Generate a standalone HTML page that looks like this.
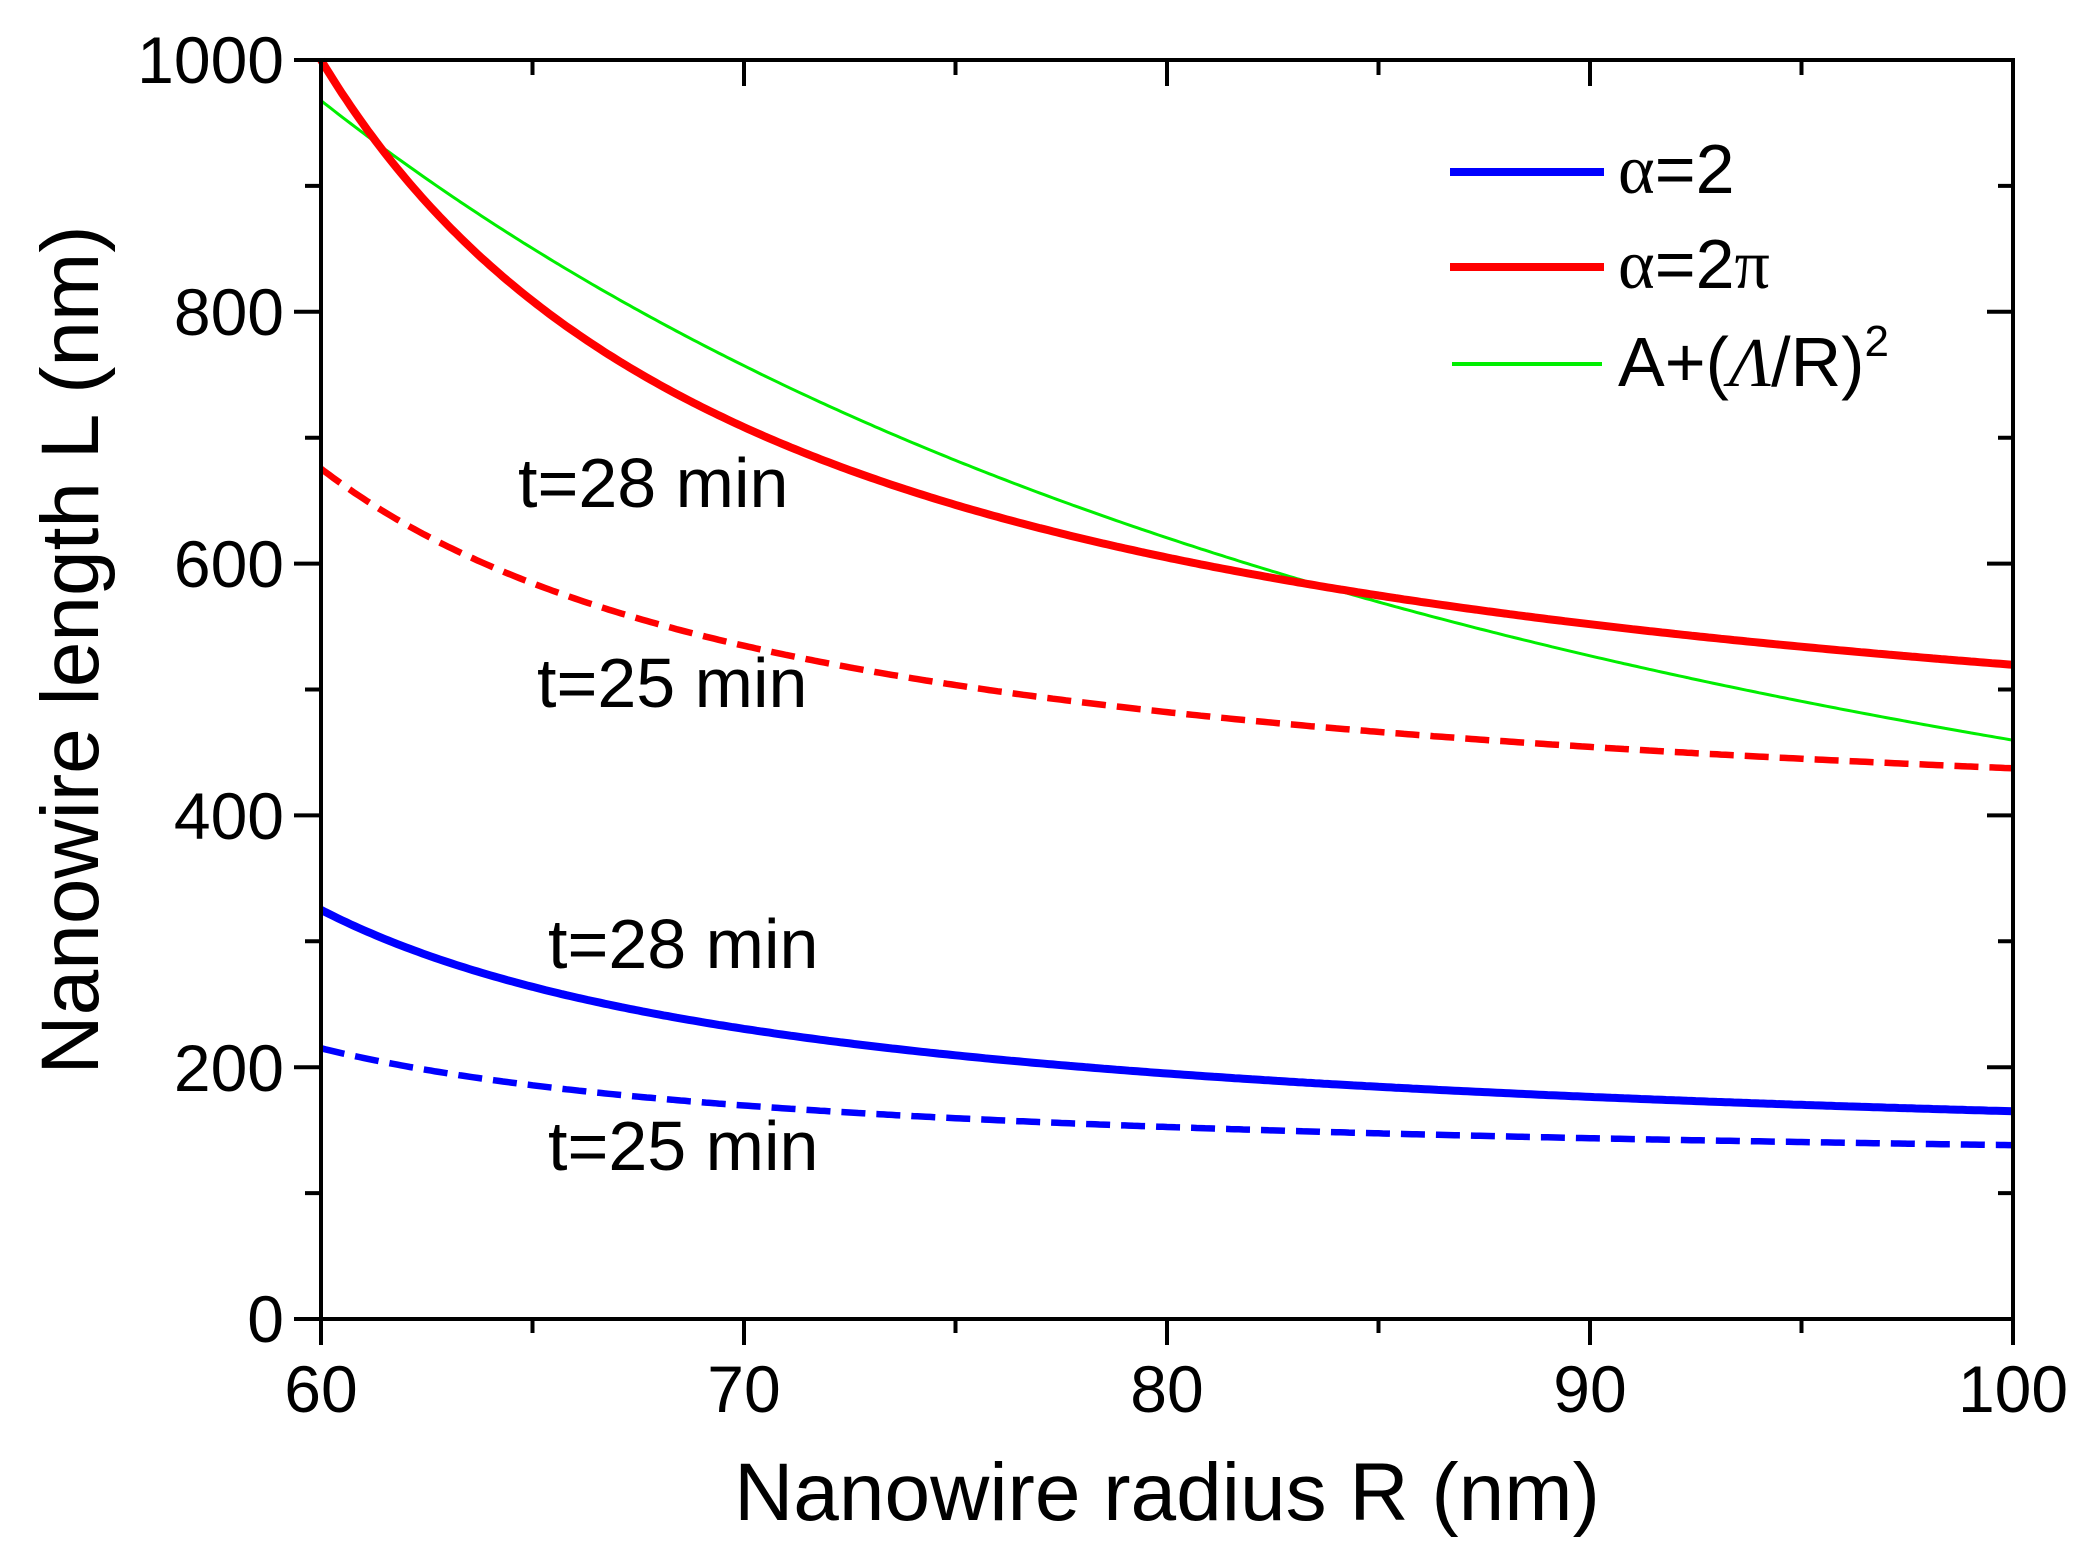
<!DOCTYPE html>
<html><head><meta charset="utf-8"><style>
html,body{margin:0;padding:0;background:#fff}
svg{display:block}
text{font-family:"Liberation Sans",sans-serif;fill:#000}
</style></head><body>
<svg id="s" width="2081" height="1562" viewBox="0 0 2081 1562" xmlns="http://www.w3.org/2000/svg">
<g id="curves"></g>
<g id="axes" stroke="#000" stroke-width="4" fill="none"></g>
<g font-size="66" text-anchor="end">
<text x="284" y="83">1000</text>
<text x="284" y="335">800</text>
<text x="284" y="587">600</text>
<text x="284" y="839">400</text>
<text x="284" y="1091">200</text>
<text x="284" y="1342">0</text>
</g>
<g font-size="66" text-anchor="middle">
<text x="321" y="1412">60</text>
<text x="744" y="1412">70</text>
<text x="1167" y="1412">80</text>
<text x="1590" y="1412">90</text>
<text x="2013" y="1412">100</text>
</g>
<text x="1167" y="1520" font-size="82" text-anchor="middle">Nanowire radius R (nm)</text>
<text transform="translate(98,650) rotate(-90)" font-size="82" text-anchor="middle">Nanowire length L (nm)</text>
<g font-size="70">
<text x="518" y="507">t=28 min</text>
<text x="537" y="707">t=25 min</text>
<text x="548" y="968">t=28 min</text>
<text x="548" y="1170">t=25 min</text>
</g>
<line x1="1450" y1="172" x2="1604" y2="172" stroke="#0000ff" stroke-width="8"/>
<line x1="1450" y1="267" x2="1604" y2="267" stroke="#ff0000" stroke-width="8"/>
<line x1="1452" y1="364" x2="1602" y2="364" stroke="#00ee00" stroke-width="4"/>
<g font-size="70">
<text x="1618" y="193"><tspan font-family="Liberation Serif">α</tspan>=2</text>
<text x="1618" y="288"><tspan font-family="Liberation Serif">α</tspan>=2<tspan font-family="Liberation Serif">π</tspan></text>
<text x="1618" y="386">A+(<tspan font-family="Liberation Serif" font-style="italic">Λ</tspan>/R)<tspan font-size="44" dy="-30">2</tspan></text>
</g>
</svg>
<script>
var X=function(r){return 321+(r-60)*(2013-321)/40;};
var Y=function(l){return 1319-l*(1319-60)/1000;};
function path(f){var d="";for(var i=0;i<=400;i++){var r=60+i*0.1;var l=f(r);d+=(i?"L":"M")+X(r).toFixed(1)+","+Y(l).toFixed(1);}return d;}
var c=document.getElementById("curves");
function add(f,col,w,dash){var p=document.createElementNS("http://www.w3.org/2000/svg","path");p.setAttribute("d",path(f));p.setAttribute("stroke",col);p.setAttribute("stroke-width",w);p.setAttribute("fill","none");if(dash)p.setAttribute("stroke-dasharray",dash);c.appendChild(p);}
add(function(r){return 1201/(r-48)+115;},"#0000ff",6.5,"24 11");
add(function(r){return 2496/(r-48)+117;},"#0000ff",8);
add(function(r){return 3713/(r-48)+366;},"#ff0000",6.5,"24 11");
add(function(r){return 174+2857500/(r*r);},"#00ee00",3);
add(function(r){return 6738/(r-49)+387.5;},"#ff0000",8);
var a=document.getElementById("axes");
var d="M321,60H2013V1319H321Z";
for(var v=0;v<=1000;v+=100){var y=Y(v);var maj=v%200==0;d+="M"+(maj?294:305)+","+y+"H321";d+="M2013,"+y+"H"+(maj?1987:1998);}
for(var r=60;r<=100;r+=5){var x=X(r);var maj=r%10==0;d+="M"+x+",1319V"+(maj?1345:1333);d+="M"+x+",60V"+(maj?86:75);}
var p=document.createElementNS("http://www.w3.org/2000/svg","path");p.setAttribute("d",d);a.appendChild(p);
</script>
</body></html>
